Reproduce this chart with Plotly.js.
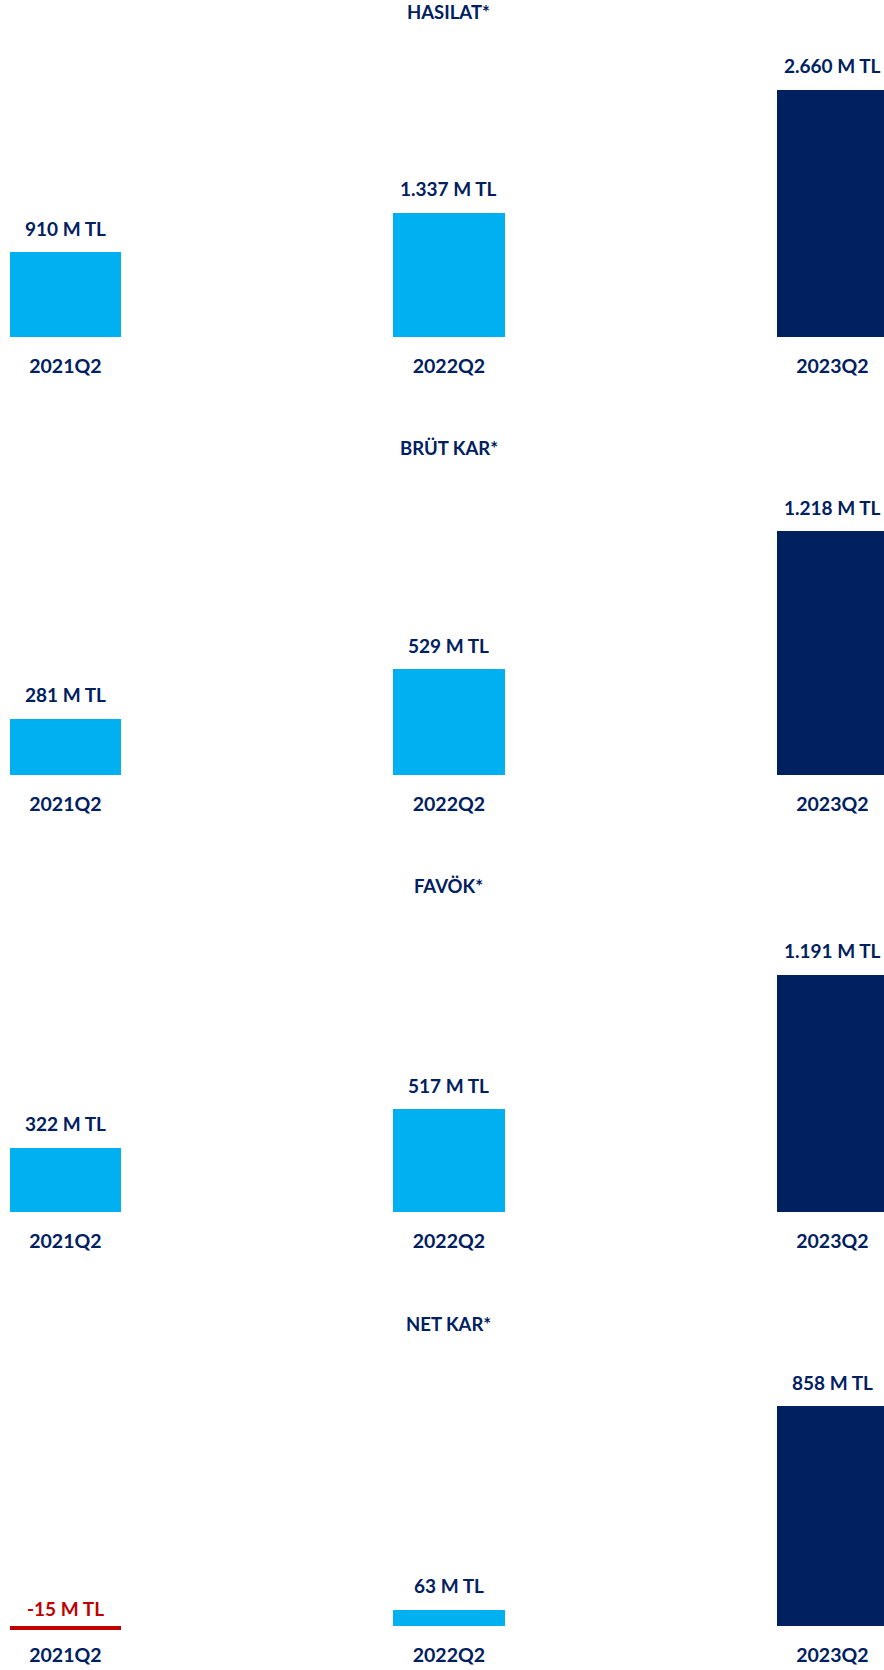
<!DOCTYPE html>
<html>
<head>
<meta charset="utf-8">
<script src="https://cdn.plot.ly/plotly-3.0.1.min.js"></script>
<style>
  html, body { margin: 0; padding: 0; background: #ffffff; }
  #chart { width: 884px; height: 1670px; }
</style>
</head>
<body>
<div id="chart"></div>
<script>
// ---- data ----
const categories = ['2021Q2', '2022Q2', '2023Q2'];
const panelTitles = ['HASILAT*', 'BRÜT KAR*', 'FAVÖK*', 'NET KAR*'];
const hasilat = [910, 1337, 2660];
const brutKar = [281, 529, 1218];
const favok = [322, 517, 1191];
const netKar = [-15, 63, 858];
const unitLabel = 'M TL';

// ---- style / geometry ----
const W = 884, H = 1670;
const LIGHT = '#00B0F0', NAVY = '#002060', RED = '#C00000';
const FONT = 'Lato, "Open Sans", sans-serif';
const panels = [hasilat, brutKar, favok, netKar];
const geom = [
  { title: 12,   base: 337,  scale: 0.0929 },
  { title: 448,  base: 775,  scale: 0.2003 },
  { title: 886,  base: 1212, scale: 0.199 },
  { title: 1324, base: 1626, scale: 0.2564 }
];
const X_RANGE = [-0.1705, 2.1346];
const BAR_W = 0.2907;
const PAD = 6;

function fmt(v) {
  const s = Math.abs(v).toString().replace(/\B(?=(\d{3})+(?!\d))/g, '.');
  return (v < 0 ? '-' : '') + s + ' ' + unitLabel;
}

const data = [];
const annotations = [];
const layout = {
  width: W, height: H,
  margin: { l: 0, r: 0, t: 0, b: 0 },
  paper_bgcolor: '#ffffff', plot_bgcolor: '#ffffff',
  showlegend: false,
  hovermode: false,
  bargap: 0,
  annotations: annotations
};

panels.forEach((vals, k) => {
  const g = geom[k];
  const n = k + 1;
  const xs = n === 1 ? 'x' : 'x' + n;
  const ys = n === 1 ? 'y' : 'y' + n;
  const xKey = n === 1 ? 'xaxis' : 'xaxis' + n;
  const yKey = n === 1 ? 'yaxis' : 'yaxis' + n;
  const bottomPx = g.base + PAD;
  const topPx = g.title + 22;

  layout[yKey] = {
    domain: [1 - bottomPx / H, 1 - topPx / H],
    range: [-PAD / g.scale, (g.base - topPx) / g.scale],
    visible: false, showgrid: false, zeroline: false, fixedrange: true
  };
  layout[xKey] = {
    anchor: ys,
    type: 'category',
    range: X_RANGE,
    showgrid: false, zeroline: false, showline: false,
    ticks: '',
    ticklabelstandoff: 9,
    tickfont: { family: FONT, size: 19.5, color: NAVY, weight: 'bold' },
    fixedrange: true
  };

  data.push({
    type: 'bar',
    x: categories,
    y: vals,
    xaxis: xs, yaxis: ys,
    width: BAR_W,
    marker: { color: vals.map((v, i) => v < 0 ? RED : (i === 2 ? NAVY : LIGHT)), line: { width: 0 } },
    hoverinfo: 'skip'
  });

  vals.forEach((v, i) => {
    annotations.push({
      xref: xs, yref: ys,
      x: categories[i], y: Math.max(v, 0),
      yanchor: 'middle', xanchor: 'center',
      yshift: v < 0 ? 18 : 24,
      showarrow: false,
      text: fmt(v),
      font: { family: FONT, size: 19, color: v < 0 ? RED : NAVY, weight: 'bold' }
    });
  });

  annotations.push({
    xref: xs, yref: 'paper',
    x: categories[1], y: 1 - g.title / H,
    yanchor: 'middle', xanchor: 'center',
    showarrow: false,
    text: panelTitles[k],
    font: { family: FONT, size: 18.5, color: NAVY, weight: 'bold' }
  });
});

Plotly.newPlot('chart', data, layout, { staticPlot: true, displayModeBar: false });
</script>
</body>
</html>
